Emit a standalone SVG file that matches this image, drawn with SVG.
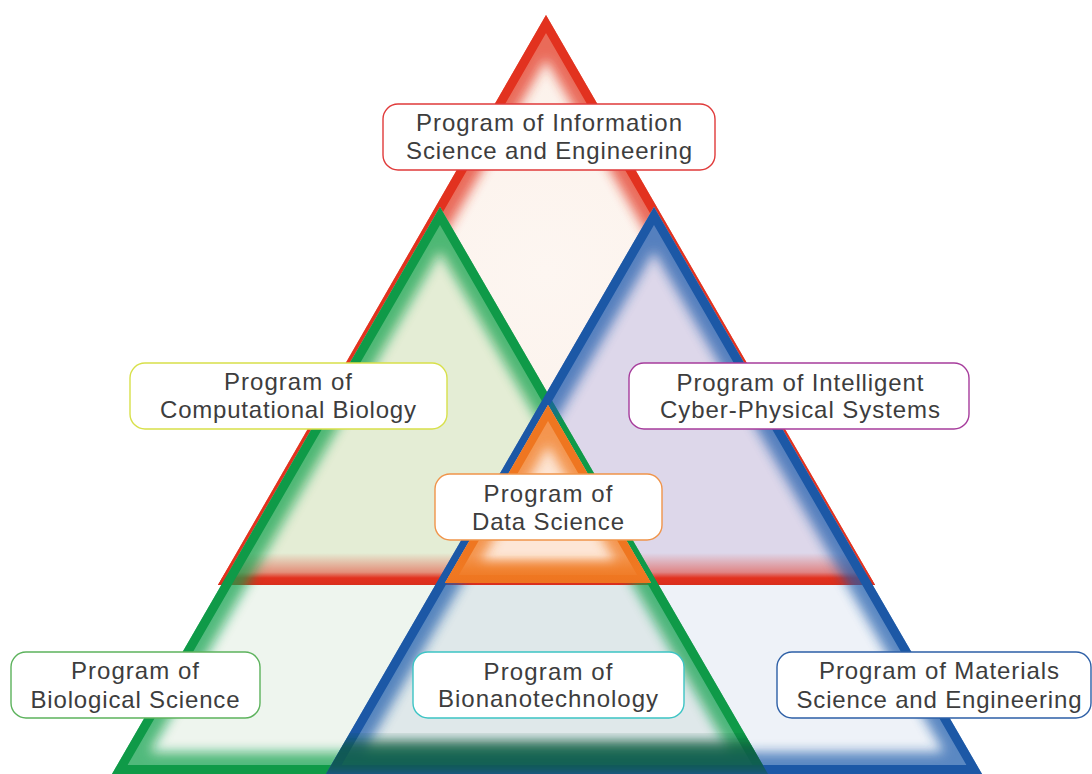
<svg xmlns="http://www.w3.org/2000/svg" width="1092" height="774" viewBox="0 0 1092 774">
<style>
.lbl{fill:#ffffff;stroke-width:1.4}
.t{font-family:"Liberation Sans",Arial,sans-serif;font-size:24px;fill:#3d3d3d;text-anchor:middle}
.glow{fill:none;stroke-width:44;opacity:0.7}
.edge{fill:none;stroke-width:18}
</style>
<defs>
<filter id="blur" x="-20%" y="-20%" width="140%" height="140%"><feGaussianBlur stdDeviation="6"/></filter>
<clipPath id="cRed"><polygon points="546,15 218,585 875,585"/></clipPath>
<clipPath id="cGreen"><polygon points="440,207 112,774 768,774"/></clipPath>
<clipPath id="cBlue"><polygon points="654,207 326,774 982,774"/></clipPath>
<clipPath id="cOrange"><polygon points="548,405 445,583 651,583"/></clipPath>
<clipPath id="cUpper"><rect x="0" y="0" width="1092" height="585"/></clipPath>
<clipPath id="cLower"><rect x="0" y="585" width="1092" height="189"/></clipPath>
<linearGradient id="redBand" x1="0" y1="0" x2="0" y2="1">
<stop offset="0" stop-color="#e2321f" stop-opacity="0"/>
<stop offset="0.6" stop-color="#e2321f" stop-opacity="0.5"/>
<stop offset="0.78" stop-color="#e2321f" stop-opacity="1"/>
<stop offset="1" stop-color="#d92e1c" stop-opacity="1"/>
</linearGradient>
<linearGradient id="orBand" x1="0" y1="0" x2="0" y2="1">
<stop offset="0" stop-color="#f07a22" stop-opacity="0"/>
<stop offset="0.5" stop-color="#f07a22" stop-opacity="0.7"/>
<stop offset="1" stop-color="#ee7420" stop-opacity="1"/>
</linearGradient>
<radialGradient id="redFill" cx="0.5" cy="0.45" r="0.6">
<stop offset="0" stop-color="#fdf6f1"/>
<stop offset="1" stop-color="#fbefe7"/>
</radialGradient>
</defs>

<g id="shapes">
<g id="red-triangle">
<polygon points="546,15 218,585 875,585" fill="url(#redFill)"/>
<g clip-path="url(#cRed)">
<polygon class="glow" points="546,15 218,585 875,585" stroke="#e2321f" filter="url(#blur)"/>
<polygon class="edge" points="546,15 218,585 875,585" stroke="#e2321f"/>
</g>
</g>
<g id="fills">
<g clip-path="url(#cUpper)">
<polygon points="440,207 112,774 768,774" fill="#e4edd5"/>
<polygon points="654,207 326,774 982,774" fill="#ddd7ea"/>
<polygon points="547,392 326,774 768,774" fill="#dcdfdc"/>
</g>
<g clip-path="url(#cLower)">
<polygon points="440,207 112,774 768,774" fill="#eef5ee"/>
<polygon points="654,207 326,774 982,774" fill="#eef2f8"/>
<polygon points="547,392 326,774 768,774" fill="#dfe8ea"/>
</g>
</g>
<g clip-path="url(#cRed)">
<rect x="200" y="553" width="700" height="32" fill="url(#redBand)"/>
</g>
<g id="green-triangle" clip-path="url(#cGreen)">
<polygon class="glow" points="440,207 112,774 768,774" stroke="#10a04c" filter="url(#blur)"/>
<polygon class="edge" points="440,207 112,774 768,774" stroke="#0f9a48"/>
</g>
<g id="blue-triangle" clip-path="url(#cBlue)">
<polygon class="glow" points="654,207 326,774 982,774" stroke="#1d5cab" filter="url(#blur)"/>
<polygon class="edge" points="654,207 326,774 982,774" stroke="#1c58a6"/>
</g>
<g clip-path="url(#cGreen)">
<g clip-path="url(#cBlue)">
<rect x="320" y="740" width="460" height="34" fill="#0c5a3a" opacity="0.75" filter="url(#blur)"/>
</g>
</g>
<g id="orange-triangle">
<polygon points="548,405 445,583 651,583" fill="#fde6d6"/>
<g clip-path="url(#cOrange)">
<polygon points="548,405 445,583 651,583" fill="none" stroke="#f07a22" stroke-width="40" opacity="0.75" filter="url(#blur)"/>
<polygon points="548,405 445,583 651,583" fill="none" stroke="#ef7620" stroke-width="16"/>
<rect x="440" y="555" width="215" height="28" fill="url(#orBand)"/>
</g>
</g>
</g>

<g id="connectors"></g>

<g id="node-info">
<rect class="lbl" x="383" y="104" width="332" height="66" rx="15" stroke="#e03a3a"/>
<text class="t" x="549" y="131" textLength="266" lengthAdjust="spacing">Program of Information</text>
<text class="t" x="549" y="159" textLength="286" lengthAdjust="spacing">Science and Engineering</text>
</g>
<g id="node-compbio">
<rect class="lbl" x="130" y="363" width="317" height="66" rx="15" stroke="#d8e04a"/>
<text class="t" x="288" y="390" textLength="128" lengthAdjust="spacing">Program of</text>
<text class="t" x="288" y="418" textLength="256" lengthAdjust="spacing">Computational Biology</text>
</g>
<g id="node-cps">
<rect class="lbl" x="629" y="363" width="340" height="66" rx="15" stroke="#a63c9c"/>
<text class="t" x="800" y="391" textLength="247" lengthAdjust="spacing">Program of Intelligent</text>
<text class="t" x="800" y="418" textLength="280" lengthAdjust="spacing">Cyber-Physical Systems</text>
</g>
<g id="node-data">
<rect class="lbl" x="435" y="474" width="227" height="66" rx="15" stroke="#f0944a"/>
<text class="t" x="548" y="502" textLength="129" lengthAdjust="spacing">Program of</text>
<text class="t" x="548" y="530" textLength="152" lengthAdjust="spacing">Data Science</text>
</g>
<g id="node-bio">
<rect class="lbl" x="11" y="652" width="249" height="66" rx="15" stroke="#5cb25c"/>
<text class="t" x="135" y="679" textLength="128" lengthAdjust="spacing">Program of</text>
<text class="t" x="135" y="708" textLength="209" lengthAdjust="spacing">Biological Science</text>
</g>
<g id="node-bionano">
<rect class="lbl" x="413" y="652" width="271" height="66" rx="15" stroke="#3cc4c4"/>
<text class="t" x="548" y="680" textLength="129" lengthAdjust="spacing">Program of</text>
<text class="t" x="548" y="707" textLength="220" lengthAdjust="spacing">Bionanotechnology</text>
</g>
<g id="node-materials">
<rect class="lbl" x="777" y="652" width="314" height="66" rx="15" stroke="#2d5fa6"/>
<text class="t" x="939" y="679" textLength="240" lengthAdjust="spacing">Program of Materials</text>
<text class="t" x="939" y="708" textLength="285" lengthAdjust="spacing">Science and Engineering</text>
</g>
</svg>
